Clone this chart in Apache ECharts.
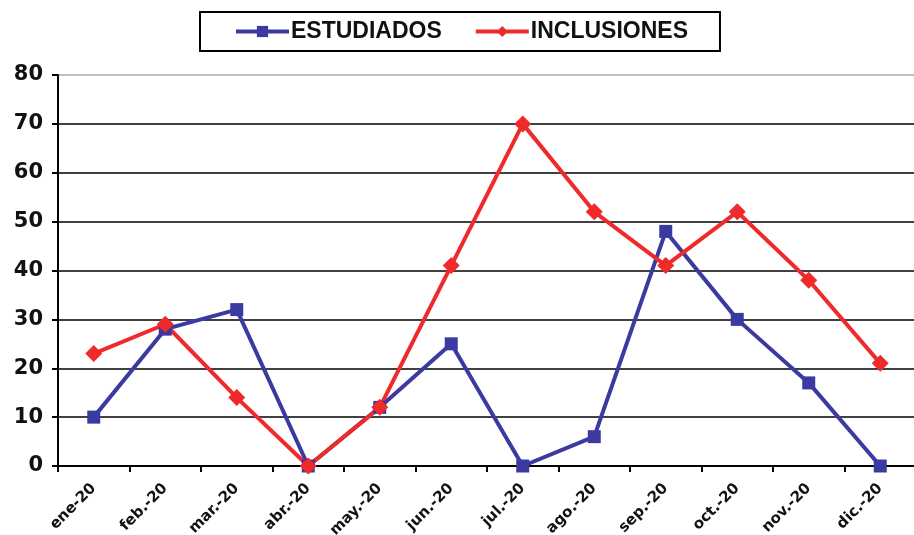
<!DOCTYPE html>
<html><head><meta charset="utf-8">
<script src="https://cdn.jsdelivr.net/npm/echarts@6/dist/echarts.min.js"></script>
<style>html,body{margin:0;padding:0;background:#fff}#c{width:914px;height:535px}</style>
</head><body><div id="c"></div>
<script>
const categories = ['ene-20','feb.-20','mar.-20','abr.-20','may.-20','jun.-20','jul.-20','ago.-20','sep.-20','oct.-20','nov.-20','dic.-20'];
const estudiados = [10, 28, 32, 0, 12, 25, 0, 6, 48, 30, 17, 0];
const inclusiones = [23, 29, 14, 0, 12, 41, 70, 52, 41, 52, 38, 21];
const yTicks = [0, 10, 20, 30, 40, 50, 60, 70, 80];

const chart = echarts.init(document.getElementById('c'));
chart.setOption({
  animation: false,
  backgroundColor: '#fff',
  textStyle: { fontFamily: 'Liberation Sans, Arial, sans-serif' },
  legend: {
    left: 200, top: 12,
    padding: [8, 32, 8, 34],
    itemGap: 32,
    itemWidth: 53, itemHeight: 14,
    borderColor: '#000', borderWidth: 2,
    lineStyle: { width: 4 },
    textStyle: { fontSize: 23, fontWeight: 'bold', color: '#111', fontFamily: 'Liberation Sans, Arial, sans-serif', padding: [0, 0, 0, -3] },
    data: ['ESTUDIADOS', 'INCLUSIONES']
  },
  grid: { left: 58, right: -2, top: 75, bottom: 69, containLabel: false, outerBoundsMode: 'none' },
  xAxis: {
    type: 'category', data: categories, boundaryGap: true,
    axisLine: { lineStyle: { color: '#000', width: 2 } },
    axisTick: { show: true, length: 6, inside: false, lineStyle: { color: '#000', width: 2 } },
    axisLabel: { rotate: 45, fontSize: 15, fontWeight: 'bold', color: '#111', margin: 20, interval: 0, fontFamily: 'DejaVu Sans' }
  },
  yAxis: {
    type: 'value', min: yTicks[0], max: yTicks[yTicks.length - 1], interval: 10,
    axisLine: { show: true, lineStyle: { color: '#000', width: 2 } },
    axisTick: { show: true, length: 6, lineStyle: { color: '#000', width: 2 } },
    axisLabel: { fontSize: 21, fontWeight: 'bold', color: '#111', margin: 15, fontFamily: 'DejaVu Sans' },
    splitLine: { show: true, lineStyle: { color: ['#000','#000','#000','#000','#000','#000','#000','#000','#aaa'], width: 1.5 } }
  },
  series: [
    {
      name: 'ESTUDIADOS', type: 'line', data: estudiados,
      symbol: 'rect', symbolSize: 13,
      lineStyle: { color: '#3a3aa0', width: 4 },
      itemStyle: { color: '#3a3aa0' }
    },
    {
      name: 'INCLUSIONES', type: 'line', data: inclusiones,
      symbol: 'diamond', symbolSize: 17,
      lineStyle: { color: '#ee2a2a', width: 4 },
      itemStyle: { color: '#ee2a2a' }
    }
  ]
});
</script></body></html>
